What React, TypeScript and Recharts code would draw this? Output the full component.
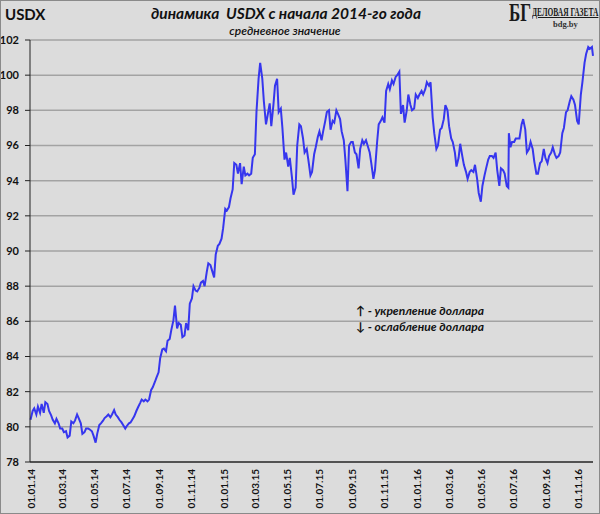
import { CartesianGrid, Line, LineChart, XAxis, YAxis } from "recharts";

// midday USDX readings, sampled Mondays and Thursdays (dd.mm)
const days2014 = [
  "02.01", "06.01", "09.01", "13.01", "16.01", "20.01", "23.01", "27.01", "30.01",
  "03.02", "06.02", "10.02", "13.02", "17.02", "20.02", "24.02", "27.02",
  "03.03", "06.03", "10.03", "13.03", "17.03", "20.03", "24.03", "27.03", "31.03",
  "03.04", "07.04", "10.04", "14.04", "17.04", "21.04", "24.04", "28.04",
  "01.05", "05.05", "08.05", "12.05", "15.05", "19.05", "22.05", "26.05", "29.05",
  "02.06", "05.06", "09.06", "12.06", "16.06", "19.06", "23.06", "26.06", "30.06",
  "03.07", "07.07", "10.07", "14.07", "17.07", "21.07", "24.07", "28.07", "31.07",
  "04.08", "07.08", "11.08", "14.08", "18.08", "21.08", "25.08", "28.08",
  "01.09", "04.09", "08.09", "11.09", "15.09", "18.09", "22.09", "25.09", "29.09",
  "02.10", "06.10", "09.10", "13.10", "16.10", "20.10", "23.10", "27.10", "30.10",
  "03.11", "06.11", "10.11", "13.11", "17.11", "20.11", "24.11", "27.11",
  "01.12", "04.12", "08.12", "11.12", "15.12", "18.12", "22.12", "25.12", "29.12",
];
const usdx2014 = [
  80.4, 80.9, 81.05, 80.7, 81.15, 80.8, 81.3, 80.8, 81.4,
  81.3, 80.9, 80.65, 80.4, 80.2, 80.45, 80.2, 79.9,
  79.9, 79.7, 79.75, 79.4, 79.5, 80.3, 80.2, 80.35, 80.7,
  80.5, 80.2, 79.6, 79.7, 79.9, 79.9, 79.85, 79.75,
  79.5, 79.1, 79.6, 80.1, 80.2, 80.35, 80.5, 80.6, 80.7,
  80.55, 80.7, 80.95, 80.7, 80.55, 80.4, 80.25, 80.1, 79.9,
  80.05, 80.2, 80.25, 80.45, 80.6, 80.9, 81.1, 81.35, 81.55,
  81.45, 81.55, 81.45, 81.55, 82.1, 82.25, 82.55, 82.8,
  83.1, 83.9, 84.4, 84.45, 84.3, 84.9, 85.0, 85.5, 86.05,
  86.9, 85.6, 85.9, 85.8, 85.1, 85.2, 85.9, 85.5, 87.0,
  87.3, 88.0, 87.75, 87.7, 87.9, 88.2, 88.3, 88.0,
  88.8, 89.3, 89.2, 88.9, 88.5, 89.8, 90.3, 90.4, 90.7,
];

const days2015 = [
  "01.01", "05.01", "08.01", "12.01", "15.01", "19.01", "22.01", "26.01", "29.01",
  "02.02", "05.02", "09.02", "12.02", "16.02", "19.02", "23.02", "26.02",
  "02.03", "05.03", "09.03", "12.03", "16.03", "19.03", "23.03", "26.03", "30.03",
  "02.04", "06.04", "09.04", "13.04", "16.04", "20.04", "23.04", "27.04", "30.04",
  "04.05", "07.05", "11.05", "14.05", "18.05", "21.05", "25.05", "28.05",
  "01.06", "04.06", "08.06", "11.06", "15.06", "18.06", "22.06", "25.06", "29.06",
  "02.07", "06.07", "09.07", "13.07", "16.07", "20.07", "23.07", "27.07", "30.07",
  "03.08", "06.08", "10.08", "13.08", "17.08", "20.08", "24.08", "27.08", "31.08",
  "03.09", "07.09", "10.09", "14.09", "17.09", "21.09", "24.09", "28.09",
  "01.10", "05.10", "08.10", "12.10", "15.10", "19.10", "22.10", "26.10", "29.10",
  "02.11", "05.11", "09.11", "12.11", "16.11", "19.11", "23.11", "26.11", "30.11",
  "03.12", "07.12", "10.12", "14.12", "17.12", "21.12", "24.12", "28.12", "31.12",
];
const usdx2015 = [
  91.3, 92.4, 92.3, 92.5, 93.0, 93.5, 95.0, 94.9, 94.4,
  95.0, 93.8, 94.8, 94.3, 94.4, 94.3, 94.4, 95.3,
  95.5, 97.9, 99.8, 100.7, 99.8, 98.5, 97.2, 97.7, 98.4,
  97.1, 98.3, 99.4, 99.8, 97.9, 98.1, 97.0, 95.2, 95.6,
  94.8, 95.3, 94.2, 93.2, 93.6, 96.0, 97.2, 97.1,
  96.4, 95.6, 95.8, 95.2, 94.3, 94.5, 95.5, 95.9, 96.5,
  96.8, 96.3, 96.8, 97.4, 97.9, 98.0, 96.9, 97.4, 97.3,
  98.0, 97.8, 97.5, 96.8, 96.3, 95.2, 93.4, 96.0, 96.2,
  96.2, 95.6, 95.5, 94.7, 95.8, 96.3, 96.1, 96.3,
  96.0, 95.6, 95.0, 94.1, 94.6, 96.2, 97.2, 97.4, 97.6,
  97.3, 99.1, 99.5, 99.2, 99.7, 99.5, 99.9, 100.0, 100.2,
  97.8, 98.3, 97.3, 98.0, 98.9, 98.3, 98.0, 98.1, 98.9,
];

const days2016 = [
  "04.01", "07.01", "11.01", "14.01", "18.01", "21.01", "25.01", "28.01",
  "01.02", "04.02", "08.02", "11.02", "15.02", "18.02", "22.02", "25.02", "29.02",
  "03.03", "07.03", "10.03", "14.03", "17.03", "21.03", "24.03", "28.03", "31.03",
  "04.04", "07.04", "11.04", "14.04", "18.04", "21.04", "25.04", "28.04",
  "02.05", "05.05", "09.05", "12.05", "16.05", "19.05", "23.05", "26.05", "30.05",
  "02.06", "06.06", "09.06", "13.06", "16.06", "20.06", "23.06", "24.06", "27.06", "30.06",
  "04.07", "07.07", "11.07", "14.07", "18.07", "21.07", "25.07", "28.07",
  "01.08", "04.08", "08.08", "11.08", "15.08", "18.08", "22.08", "25.08", "29.08",
  "01.09", "05.09", "08.09", "12.09", "15.09", "19.09", "22.09", "26.09", "29.09",
  "03.10", "06.10", "10.10", "13.10", "17.10", "20.10", "24.10", "27.10", "31.10",
  "03.11", "07.11", "10.11", "14.11", "17.11", "21.11", "24.11", "28.11", "30.11",
];
const usdx2016 = [
  98.7, 98.9, 99.1, 98.9, 99.2, 99.6, 99.4, 99.6,
  97.6, 96.7, 95.8, 96.0, 96.9, 97.0, 97.5, 98.3, 98.0,
  97.1, 96.4, 96.2, 95.6, 94.8, 95.3, 96.1, 95.4, 94.9,
  94.5, 94.1, 94.5, 94.6, 94.5, 94.9, 94.1, 93.3,
  92.8, 93.7, 94.3, 94.7, 95.2, 95.4, 95.4, 95.3, 95.6,
  94.6, 93.7, 94.7, 94.6, 94.4, 93.7, 93.6, 96.7, 95.9, 96.2,
  96.2, 96.4, 96.4, 96.4, 97.2, 97.5, 96.9, 95.6,
  95.8, 96.2, 95.8, 95.1, 94.4, 94.4, 95.0, 95.1, 95.8,
  95.3, 95.0, 95.4, 95.6, 95.9, 95.5, 95.3, 95.4, 95.6,
  96.7, 97.0, 97.9, 98.0, 98.5, 98.8, 98.6, 98.3, 97.4,
  97.2, 98.9, 99.6, 100.7, 101.2, 101.6, 101.5, 101.6, 101.1,
];

const xTickLabels = [
  "01.01.14", "01.03.14", "01.05.14", "01.07.14", "01.09.14", "01.11.14",
  "01.01.15", "01.03.15", "01.05.15", "01.07.15", "01.09.15", "01.11.15",
  "01.01.16", "01.03.16", "01.05.16", "01.07.16", "01.09.16", "01.11.16",
];
const yTicks = [78, 80, 82, 84, 86, 88, 90, 92, 94, 96, 98, 100, 102];

const toTime = (year: number, dm: string) => {
  const [d, m] = dm.split(".").map(Number);
  return Date.UTC(year, m - 1, d);
};

const data = [
  ...days2014.map((dm, i) => ({ t: toTime(2014, dm), usdx: usdx2014[i] })),
  ...days2015.map((dm, i) => ({ t: toTime(2015, dm), usdx: usdx2015[i] })),
  ...days2016.map((dm, i) => ({ t: toTime(2016, dm), usdx: usdx2016[i] })),
];

const xTicks = xTickLabels.map((s) => toTime(2000 + Number(s.slice(6)), s.slice(0, 5)));
const labelByTime = new Map(xTicks.map((t, i) => [t, xTickLabels[i]]));

const FONT = "Lato, 'Open Sans', sans-serif";
const SERIF = "'Liberation Serif', 'DejaVu Serif', serif";

function DateTick({ x, y, payload }: any) {
  return (
    <text
      x={x + 1}
      y={y}
      transform={`rotate(-90 ${x + 1} ${y})`}
      textAnchor="end"
      dy="0.35em"
      fontSize={10}
      fontWeight={700}
      fontFamily={FONT}
      fill="#111"
    >
      {labelByTime.get(payload.value)}
    </text>
  );
}

export default function App() {
  return (
    <div style={{ position: "absolute", left: 0, top: 0, width: 600, height: 514, background: "#dcdcdc", fontFamily: FONT }}>
      <LineChart width={600} height={514} data={data} margin={{ top: 40, right: 7, bottom: 0, left: 0 }}>
        <CartesianGrid vertical={false} stroke="#a3a3a3" strokeWidth={1.5} />
        <XAxis
          dataKey="t"
          type="number"
          scale="time"
          domain={[Date.UTC(2014, 0, 1), Date.UTC(2016, 10, 30)]}
          ticks={xTicks}
          tick={<DateTick />}
          tickLine={false}
          tickSize={0}
          tickMargin={7}
          height={52}
          stroke="#333"
          strokeWidth={1.5}
          interval={0}
        />
        <YAxis
          domain={[78, 102]}
          ticks={yTicks}
          width={30}
          tickSize={5}
          tickMargin={6}
          stroke="#222"
          tick={{ fill: "#111", fontSize: 11, fontWeight: 700, fontFamily: FONT }}
          interval={0}
        />
        <Line
          dataKey="usdx"
          type="linear"
          stroke="#3636ee"
          strokeWidth={2}
          dot={false}
          isAnimationActive={false}
        />
      </LineChart>

      <div style={{ position: "absolute", left: 5, top: 5, fontSize: 15, fontWeight: 700, color: "#111" }}>USDX</div>
      <div style={{ position: "absolute", left: 0, width: 572, top: 4, textAlign: "center", fontSize: 15.5, fontWeight: 700, fontStyle: "italic", color: "#111", whiteSpace: "pre" }}>
        {"динамика  USDX с начала 2014-го года"}
      </div>
      <div style={{ position: "absolute", left: 0, width: 570, top: 23, textAlign: "center", fontSize: 12, fontStyle: "italic", fontWeight: 600, color: "#111" }}>
        средневное значение
      </div>

      <div style={{ position: "absolute", left: 509, top: 1, fontFamily: SERIF, fontSize: 25, lineHeight: "24px", fontWeight: 700, color: "#1a1a1a", transform: "scaleX(0.68)", transformOrigin: "left top", whiteSpace: "nowrap" }}>БГ</div>
      <div style={{ position: "absolute", left: 532, top: 6, fontFamily: SERIF, fontSize: 12, lineHeight: "13px", fontWeight: 700, textDecoration: "underline", color: "#1a1a1a", transform: "scaleX(0.62)", transformOrigin: "left top", whiteSpace: "nowrap" }}>ДЕЛОВАЯ ГАЗЕТА</div>
      <div style={{ position: "absolute", left: 553, top: 20, fontFamily: SERIF, fontSize: 8.5, lineHeight: "9px", fontWeight: 700, color: "#333" }}>bdg.by</div>

      <div style={{ position: "absolute", left: 356, top: 303, fontSize: 12, fontWeight: 700, fontStyle: "italic", color: "#111", lineHeight: "16px", whiteSpace: "nowrap" }}>
        <div>{"\u2191 - укрепление доллара"}</div>
        <div>{"\u2193 - ослабление доллара"}</div>
      </div>

      <div style={{ position: "absolute", inset: 0, border: "1px solid #8a8a8a", pointerEvents: "none" }} />
    </div>
  );
}
